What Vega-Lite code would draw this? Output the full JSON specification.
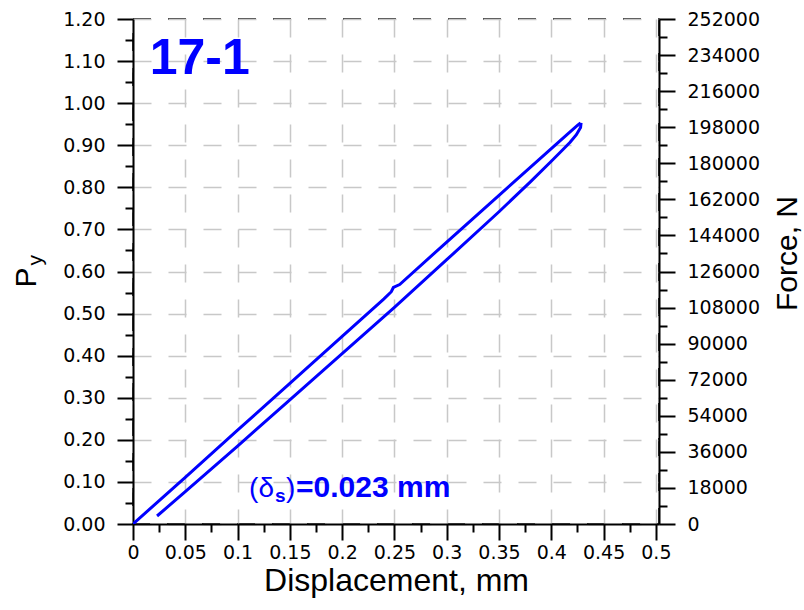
{
  "$schema": "https://vega.github.io/schema/vega-lite/v6.json",
  "width": 526,
  "height": 505,
  "autosize": {"type": "none"},
  "padding": {"left": 133, "top": 19, "right": 145, "bottom": 86},
  "background": "white",
  "config": {
    "view": {"stroke": "black", "strokeWidth": 1.5, "strokeDash": [18, 17]},
    "font": "Liberation Sans"
  },
  "datasets": {
    "loop": [
      {"branch": "loading", "d": 0.0, "p": 0.0},
      {"branch": "loading", "d": 0.05, "p": 0.111},
      {"branch": "loading", "d": 0.1, "p": 0.223},
      {"branch": "loading", "d": 0.15, "p": 0.334},
      {"branch": "loading", "d": 0.2, "p": 0.446},
      {"branch": "loading", "d": 0.24, "p": 0.535},
      {"branch": "loading", "d": 0.247, "p": 0.552},
      {"branch": "loading", "d": 0.249, "p": 0.562},
      {"branch": "loading", "d": 0.255, "p": 0.569},
      {"branch": "loading", "d": 0.3, "p": 0.67},
      {"branch": "loading", "d": 0.35, "p": 0.781},
      {"branch": "loading", "d": 0.4, "p": 0.892},
      {"branch": "loading", "d": 0.415, "p": 0.925},
      {"branch": "loading", "d": 0.425, "p": 0.947},
      {"branch": "loading", "d": 0.428, "p": 0.953},
      {"branch": "unloading", "d": 0.4285, "p": 0.953},
      {"branch": "unloading", "d": 0.428, "p": 0.942},
      {"branch": "unloading", "d": 0.424, "p": 0.925},
      {"branch": "unloading", "d": 0.418, "p": 0.907},
      {"branch": "unloading", "d": 0.41, "p": 0.887},
      {"branch": "unloading", "d": 0.4, "p": 0.862},
      {"branch": "unloading", "d": 0.38, "p": 0.813},
      {"branch": "unloading", "d": 0.35, "p": 0.742},
      {"branch": "unloading", "d": 0.3, "p": 0.628},
      {"branch": "unloading", "d": 0.25, "p": 0.515},
      {"branch": "unloading", "d": 0.2, "p": 0.405},
      {"branch": "unloading", "d": 0.15, "p": 0.295},
      {"branch": "unloading", "d": 0.1, "p": 0.185},
      {"branch": "unloading", "d": 0.05, "p": 0.077},
      {"branch": "unloading", "d": 0.023, "p": 0.019}
    ],
    "note": [{"n": 1}]
  },
  "layer": [
    {
      "layer": [
        {
          "data": {"name": "loop"},
          "mark": {"type": "line", "color": "#0000ff", "strokeWidth": 3, "clip": true},
          "encoding": {
            "x": {
              "field": "d", "type": "quantitative",
              "scale": {"domain": [0, 0.503], "nice": false, "zero": false},
              "axis": {
                "orient": "bottom",
                "values": [0, 0.05, 0.1, 0.15, 0.2, 0.25, 0.3, 0.35, 0.4, 0.45, 0.5],
                "format": "~g",
                "tickSize": 16, "tickWidth": 2, "tickColor": "black",
                "domainColor": "black", "domainWidth": 2,
                "labelFont": "DejaVu Sans", "labelFontSize": 19, "labelColor": "black", "labelPadding": 3,
                "labelFlush": false, "labelOverlap": false,
                "grid": true, "gridDash": [18, 17], "gridColor": "#c8c8c8", "gridWidth": 1.5,
                "title": "Displacement, mm", "titleFont": "Liberation Sans", "titleFontSize": 32,
                "titleFontWeight": "normal", "titleColor": "black", "titlePadding": 3
              }
            },
            "y": {
              "field": "p", "type": "quantitative",
              "scale": {"domain": [0, 1.2], "nice": false, "zero": false},
              "axis": {
                "orient": "left",
                "values": [0, 0.1, 0.2, 0.3, 0.4, 0.5, 0.6, 0.7, 0.8, 0.9, 1.0, 1.1, 1.2],
                "format": ".2f",
                "tickSize": 16, "tickWidth": 2, "tickColor": "black",
                "domainColor": "black", "domainWidth": 2,
                "labelFont": "DejaVu Sans", "labelFontSize": 19, "labelColor": "black", "labelPadding": 12,
                "labelFlush": false, "labelOverlap": false,
                "grid": true, "gridDash": [18, 17], "gridColor": "#c8c8c8", "gridWidth": 1.5,
                "title": null
              }
            },
            "detail": {"field": "branch", "type": "nominal"}
          }
        },
        {
          "data": {"name": "note"},
          "mark": {"type": "text", "text": "17-1", "font": "Liberation Sans", "fontSize": 50, "fontWeight": "bold", "color": "#0000ff", "align": "left", "baseline": "alphabetic"},
          "encoding": {"x": {"datum": 0.016}, "y": {"datum": 1.069}}
        },
        {
          "data": {"name": "note"},
          "mark": {"type": "text", "text": "(δ", "font": "Liberation Sans", "fontSize": 28, "color": "#0000ff", "align": "left", "baseline": "alphabetic"},
          "encoding": {"x": {"datum": 0.111}, "y": {"datum": 0.064}}
        },
        {
          "data": {"name": "note"},
          "mark": {"type": "text", "text": "s", "font": "Liberation Sans", "fontSize": 19, "fontWeight": "bold", "color": "#0000ff", "align": "left", "baseline": "alphabetic", "dx": 26, "dy": 5},
          "encoding": {"x": {"datum": 0.111}, "y": {"datum": 0.064}}
        },
        {
          "data": {"name": "note"},
          "mark": {"type": "text", "text": ")", "font": "Liberation Sans", "fontSize": 28, "color": "#0000ff", "align": "left", "baseline": "alphabetic", "dx": 37},
          "encoding": {"x": {"datum": 0.111}, "y": {"datum": 0.064}}
        },
        {
          "data": {"name": "note"},
          "mark": {"type": "text", "text": "=0.023 mm", "font": "Liberation Sans", "fontSize": 30, "fontWeight": "bold", "color": "#0000ff", "align": "left", "baseline": "alphabetic", "dx": 47},
          "encoding": {"x": {"datum": 0.111}, "y": {"datum": 0.064}}
        },
        {
          "data": {"name": "note"},
          "mark": {"type": "text", "text": "P", "font": "Liberation Sans", "fontSize": 30, "color": "black", "align": "center", "baseline": "alphabetic", "angle": 270},
          "encoding": {"x": {"datum": -0.0927}, "y": {"datum": 0.5855}}
        },
        {
          "data": {"name": "note"},
          "mark": {"type": "text", "text": "y", "font": "Liberation Sans", "fontSize": 21, "color": "black", "align": "center", "baseline": "alphabetic", "angle": 270},
          "encoding": {"x": {"datum": -0.087}, "y": {"datum": 0.627}}
        }
      ]
    },
    {
      "data": {"name": "note"},
      "mark": {"type": "point", "opacity": 0},
      "encoding": {
        "x": {
          "datum": 0, "type": "quantitative",
          "scale": {"domain": [0, 0.503], "nice": false, "zero": false},
          "axis": {
            "orient": "bottom",
            "values": [0.025, 0.075, 0.125, 0.175, 0.225, 0.275, 0.325, 0.375, 0.425, 0.475],
            "labels": false, "grid": false, "domain": false,
            "tickSize": 8, "tickWidth": 2, "tickColor": "black", "title": null
          }
        },
        "y": {
          "datum": 0, "type": "quantitative",
          "scale": {"domain": [0, 1.2], "nice": false, "zero": false},
          "axis": {
            "orient": "left",
            "values": [0.05, 0.15, 0.25, 0.35, 0.45, 0.55, 0.65, 0.75, 0.85, 0.95, 1.05, 1.15],
            "labels": false, "grid": false, "domain": false,
            "tickSize": 8, "tickWidth": 2, "tickColor": "black", "title": null
          }
        }
      }
    },
    {
      "data": {"name": "note"},
      "mark": {"type": "rule", "opacity": 0},
      "encoding": {
        "y": {
          "datum": 0, "type": "quantitative",
          "scale": {"domain": [0, 252000], "nice": false, "zero": false},
          "axis": {
            "orient": "right",
            "values": [0, 18000, 36000, 54000, 72000, 90000, 108000, 126000, 144000, 162000, 180000, 198000, 216000, 234000, 252000],
            "format": "d",
            "tickSize": 16, "tickWidth": 2, "tickColor": "black",
            "domainColor": "black", "domainWidth": 2,
            "labelFont": "DejaVu Sans", "labelFontSize": 19, "labelColor": "black", "labelPadding": 12,
            "labelFlush": false, "labelOverlap": false, "grid": false,
            "title": "Force, N", "titleFont": "Liberation Sans", "titleFontSize": 30,
            "titleFontWeight": "normal", "titleColor": "black", "titleAngle": 270,
            "titleX": 128, "titleY": 234, "titleAlign": "center", "titleBaseline": "middle"
          }
        }
      }
    },
    {
      "data": {"name": "note"},
      "mark": {"type": "rule", "opacity": 0},
      "encoding": {
        "y": {
          "datum": 0, "type": "quantitative",
          "scale": {"domain": [0, 252000], "nice": false, "zero": false},
          "axis": {
            "orient": "right",
            "values": [9000, 27000, 45000, 63000, 81000, 99000, 117000, 135000, 153000, 171000, 189000, 207000, 225000, 243000],
            "labels": false, "grid": false, "domain": false,
            "tickSize": 8, "tickWidth": 2, "tickColor": "black", "title": null
          }
        }
      }
    }
  ],
  "resolve": {
    "scale": {"x": "independent", "y": "independent"},
    "axis": {"x": "independent", "y": "independent"}
  }
}
